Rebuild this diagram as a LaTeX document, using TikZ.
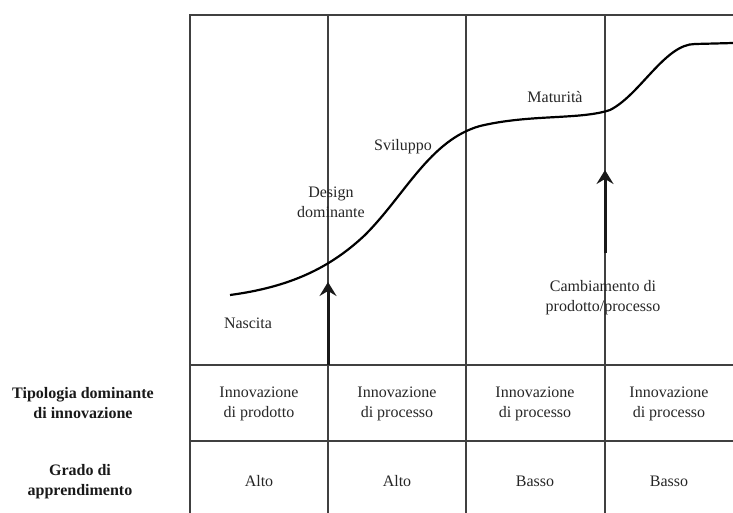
\documentclass[tikz,border=0pt]{standalone}
\usepackage{fontspec}
\setmainfont{Liberation Serif}
\usetikzlibrary{arrows.meta}

\tikzset{
  gridline/.style={line width=1.6pt, black!75},
  curveline/.style={line width=2.2pt, black},
  bigarrow/.style={line width=3pt, black!90, -{Stealth[length=14pt,width=17pt,inset=5pt]}},
  celltext/.style={align=center, font=\fontsize{16}{20}\selectfont, text=black!85},
  rowlabel/.style={align=center, font=\fontsize{16}{20}\selectfont\bfseries, text=black!90}
}

\begin{document}
\begin{tikzpicture}[x=1pt,y=-1pt]
    \useasboundingbox (0,0) rectangle (733,513);

    % grid
    \draw[gridline] (733,15) -- (190,15) -- (190,513);
    \foreach \x in {328,466,605}
        \draw[gridline] (\x,15) -- (\x,513);
    \foreach \y in {365,441}
        \draw[gridline] (190,\y) -- (733,\y);

    % curve
    \draw[curveline] (230,295) .. controls (290,287) and (330,268) .. (365,235)
        .. controls (405,195) and (430,140) .. (480,126)
        .. controls (530,114) and (580,120) .. (610,110)
        .. controls (640,95) and (665,44) .. (695,44)
        .. controls (715,43.5) .. (733,43);

    % phases
    \node[celltext] (nascita) at (248,323) {Nascita};
    \node[celltext] (design) at (331,202) {Design\\dominante};
    \node[celltext] (sviluppo) at (403,147) {Sviluppo};
    \node[celltext] (maturita) at (555,97) {Maturità};
    \node[celltext] (cambiamento) at (603,298) {Cambiamento di\\prodotto/processo};

    % arrows
    \coordinate (base1) at (328,365);
    \coordinate (tip1) at (328,282);
    \coordinate (base2) at (605,253);
    \coordinate (tip2) at (605,170);
    \draw[bigarrow] (base1) -- (tip1);
    \draw[bigarrow] (base2) -- (tip2);

    % table
    \node[rowlabel] (tipologia) at (83,403) {Tipologia dominante\\di innovazione};
    \node[rowlabel] (grado) at (80,482) {Grado di\\apprendimento};
    \foreach \i/\c/\t/\g in {1/259/prodotto/Alto, 2/397/processo/Alto,
                            3/535/processo/Basso, 4/669/processo/Basso} {
        \node[celltext] (innov\i) at (\c,404) {Innovazione\\di \t};
        \node[celltext] (appr\i) at (\c,481) {\g};
    }
\end{tikzpicture}
\end{document}
